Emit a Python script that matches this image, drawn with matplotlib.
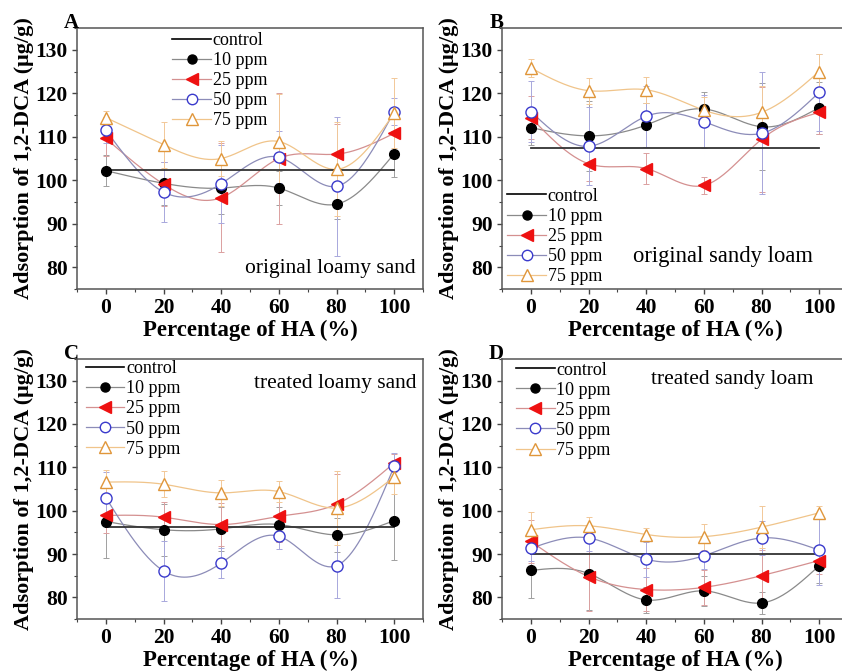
import numpy as np
import matplotlib
matplotlib.use('Agg')
import matplotlib.pyplot as plt
from matplotlib.lines import Line2D
from matplotlib.ticker import MultipleLocator

plt.rcParams['font.family'] = ['Liberation Serif', 'DejaVu Serif']
plt.rcParams['mathtext.fontset'] = 'stix'

# percentage of HA
ha = [0, 20, 40, 60, 80, 100]
labels = ['10 ppm', '25 ppm', '50 ppm', '75 ppm']

# A: original loamy sand
a_control = 102.3
a_10 = [102.2, 99.3, 98.2, 98.2, 94.5, 106.1]
a_25 = [109.6, 99.1, 96.0, 105.0, 106.0, 110.8]
a_50 = [111.5, 97.3, 99.2, 105.3, 98.6, 115.8]
a_75 = [114.4, 108.2, 105.0, 108.9, 102.5, 115.4]
a_10_err = [3.5, 5.0, 6.0, 4.0, 3.5, 5.3]
a_25_err = [4.0, 5.0, 12.5, 15.0, 7.0, 4.0]
a_50_err = [3.0, 7.0, 9.0, 6.0, 16.0, 3.0]
a_75_err = [1.5, 5.3, 4.0, 11.0, 10.8, 8.0]

# B: original sandy loam
b_control = 107.3
b_10 = [112.1, 110.2, 112.7, 116.4, 112.3, 116.7]
b_25 = [114.4, 103.8, 102.7, 98.8, 109.4, 115.6]
b_50 = [115.8, 107.8, 114.7, 113.5, 110.8, 120.2]
b_75 = [125.8, 120.6, 120.8, 116.1, 115.6, 125.0]
b_10_err = [4.0, 8.0, 5.0, 4.0, 10.0, 6.0]
b_25_err = [5.0, 4.0, 3.5, 2.0, 12.0, 5.0]
b_50_err = [7.0, 9.0, 7.0, 6.0, 14.0, 8.8]
b_75_err = [2.0, 3.0, 3.0, 3.0, 6.0, 4.0]

# C: treated loamy sand
c_control = 96.2
c_10 = [97.5, 95.6, 95.8, 96.8, 94.4, 97.7]
c_25 = [98.9, 98.5, 96.8, 98.7, 101.5, 111.0]
c_50 = [103.0, 86.1, 87.9, 94.1, 87.3, 110.2]
c_75 = [106.6, 106.1, 104.1, 104.4, 100.6, 107.8]
c_10_err = [8.5, 6.0, 5.0, 4.0, 4.0, 9.0]
c_25_err = [4.0, 3.5, 5.0, 6.0, 7.0, 2.0]
c_50_err = [6.0, 7.0, 3.5, 3.0, 7.5, 3.0]
c_75_err = [2.7, 3.0, 3.0, 2.5, 8.5, 4.0]

# D: treated sandy loam
d_control = 90.0
d_10 = [86.2, 85.5, 79.4, 81.5, 78.7, 87.3]
d_25 = [92.9, 84.8, 81.8, 82.3, 85.0, 88.5]
d_50 = [91.3, 93.7, 88.8, 89.6, 93.7, 90.9]
d_75 = [95.6, 96.5, 94.5, 94.0, 96.2, 99.5]
d_10_err = [6.3, 8.5, 3.0, 3.5, 2.5, 4.0]
d_25_err = [5.0, 8.0, 5.0, 4.0, 6.0, 3.0]
d_50_err = [3.0, 3.0, 4.0, 3.0, 4.0, 8.0]
d_75_err = [4.0, 2.0, 1.5, 3.0, 4.8, 1.5]

# marker style, line colour, error colour
styles = [
    dict(marker='o', mfc='black', mec='black', ms=7, line='#8a8a8a', err='#a0a0a0'),
    dict(marker='<', mfc='#ee1111', mec='#ee1111', ms=9, line='#d49090', err='#dba0a0'),
    dict(marker='o', mfc='white', mec='#3a3acc', ms=8, line='#8c8cb8', err='#a8a8dc'),
    dict(marker='^', mfc='white', mec='#e0963a', ms=9, line='#f0c48a', err='#f2c898'),
]


def smooth(x, y, n=200):
    # natural cubic spline through the points (for the connecting curve)
    x = np.asarray(x, float)
    y = np.asarray(y, float)
    h = np.diff(x)
    m = len(x)
    A = np.zeros((m, m))
    r = np.zeros(m)
    A[0, 0] = A[-1, -1] = 1
    for i in range(1, m - 1):
        A[i, i - 1] = h[i - 1]
        A[i, i] = 2 * (h[i - 1] + h[i])
        A[i, i + 1] = h[i]
        r[i] = 3 * ((y[i + 1] - y[i]) / h[i] - (y[i] - y[i - 1]) / h[i - 1])
    c = np.linalg.solve(A, r)
    b = (y[1:] - y[:-1]) / h - h * (2 * c[:-1] + c[1:]) / 3
    d = (c[1:] - c[:-1]) / (3 * h)
    xs = np.linspace(x[0], x[-1], n)
    idx = np.clip(np.searchsorted(x, xs) - 1, 0, m - 2)
    dx = xs - x[idx]
    return xs, y[idx] + b[idx] * dx + c[idx] * dx ** 2 + d[idx] * dx ** 3


def panel(ax, letter, control, series, errs, note, note_xy, note_size, leg_loc, leg_anchor):
    for s, e, st in zip(series, errs, styles):
        xs, ys = smooth(ha, s)
        ax.plot(xs, ys, color=st['line'], lw=0.9, zorder=2)
        ax.errorbar(ha, s, yerr=e, fmt='none', ecolor=st['err'], elinewidth=0.7,
                    capsize=2, capthick=0.7, zorder=1)
    ax.plot([ha[0], ha[-1]], [control, control], color='#333333', lw=1.3, zorder=3)
    for s, st in zip(series, styles):
        ax.plot(ha, s, ls='none', marker=st['marker'], mfc=st['mfc'], mec=st['mec'],
                ms=st['ms'], mew=1.0, zorder=4)

    ax.set_xlim(-10, 110)
    ax.set_ylim(75, 135)
    ax.xaxis.set_major_locator(MultipleLocator(20))
    ax.xaxis.set_minor_locator(MultipleLocator(10))
    ax.yaxis.set_major_locator(MultipleLocator(10))
    ax.yaxis.set_minor_locator(MultipleLocator(5))
    ax.set_yticks([80, 90, 100, 110, 120, 130])
    ax.tick_params(which='major', direction='out', length=3.5, width=1, labelsize=15.5, pad=3,
                   color='#444444')
    ax.tick_params(which='minor', direction='out', length=2, width=0.8, color='#444444')
    for lab in ax.get_xticklabels() + ax.get_yticklabels():
        lab.set_fontweight('bold')
    for sp in ax.spines.values():
        sp.set_color('#555555')
        sp.set_linewidth(1.1)

    ax.set_xlabel('Percentage of HA (%)', fontsize=16.5, fontweight='bold', labelpad=1)
    ax.set_ylabel('Adsorption of 1,2-DCA (μg/g)', fontsize=16, fontweight='bold', labelpad=1)
    ax.text(0.005, 1.0, letter, transform=ax.transAxes, ha='right', va='baseline',
            fontsize=15, fontweight='bold')
    ax.text(note_xy[0], note_xy[1], note, transform=ax.transAxes, ha='right', va='center',
            fontsize=note_size)

    handles = [Line2D([], [], color='black', lw=1.2)]
    for st in styles:
        handles.append(Line2D([], [], color=st['line'], lw=0.9, marker=st['marker'],
                              mfc=st['mfc'], mec=st['mec'], ms=st['ms'] - 0.5, mew=1.0))
    ax.legend(handles, ['control'] + labels, loc=leg_loc, bbox_to_anchor=leg_anchor,
              frameon=False, fontsize=13, handlelength=2.15, handletextpad=0.1,
              labelspacing=0.17, borderpad=0, borderaxespad=0)


fig = plt.figure(figsize=(8.42, 6.72), dpi=100)
w = 346 / 842
h_top = 261 / 672
axA = fig.add_axes([77 / 842, 1 - 289 / 672, w, h_top])
axB = fig.add_axes([502 / 842, 1 - 289 / 672, w, h_top])
axC = fig.add_axes([77 / 842, 1 - 619 / 672, w, 260 / 672])
axD = fig.add_axes([502 / 842, 1 - 619 / 672, w, 260 / 672])

panel(axA, 'A', a_control, [a_10, a_25, a_50, a_75], [a_10_err, a_25_err, a_50_err, a_75_err],
      'original loamy sand', (0.98, 0.08), 15.5, 'upper left', (0.275, 0.985))
panel(axB, 'B', b_control, [b_10, b_25, b_50, b_75], [b_10_err, b_25_err, b_50_err, b_75_err],
      'original sandy loam', (0.90, 0.125), 16.3, 'lower left', (0.015, 0.015))
panel(axC, 'C', c_control, [c_10, c_25, c_50, c_75], [c_10_err, c_25_err, c_50_err, c_75_err],
      'treated loamy sand', (0.98, 0.905), 15.5, 'upper left', (0.025, 0.995))
panel(axD, 'D', d_control, [d_10, d_25, d_50, d_75], [d_10_err, d_25_err, d_50_err, d_75_err],
      'treated sandy loam', (0.90, 0.92), 15.5, 'upper left', (0.04, 0.99))

fig.savefig('out.png', dpi=100)
